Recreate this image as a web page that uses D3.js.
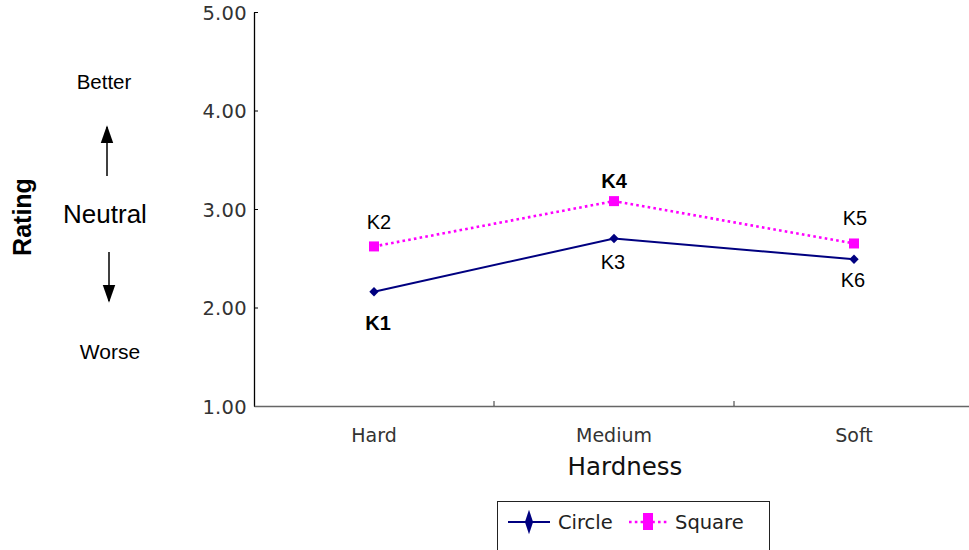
<!DOCTYPE html>
<html>
<head>
<meta charset="utf-8">
<script src="https://cdn.jsdelivr.net/npm/d3@7"></script>
<style>
  html, body { margin: 0; padding: 0; background: #fff; }
  svg { display: block; }
  text { font-family: "Liberation Sans", Arial, sans-serif; }
</style>
</head>
<body>
<svg id="chart" width="969" height="550"></svg>
<script>
// Hardness categories along the x axis
const categories = ["Hard", "Medium", "Soft"];
// Mean rating per hardness
const circleValues = [2.16, 2.70, 2.49];
const squareValues = [2.62, 3.08, 2.65];
// Point labels per series
const circleLabels = ["K1", "K3", "K6"];
const squareLabels = ["K2", "K4", "K5"];
const yTicks = [1, 2, 3, 4, 5];

(function () {
const svg = d3.select("#chart");
const plotLeft = 254, plotRight = 974, plotTop = 12, plotBottom = 406;

const x = d3.scaleBand().domain(categories).range([plotLeft, plotRight]);
const y = d3.scaleLinear().domain([1, 5]).range([plotBottom, plotTop]);
const cx = d => x(d) + x.bandwidth() / 2;

// Y axis (ticks pointing inward)
const yAxis = svg.append("g").attr("transform", `translate(${plotLeft},0)`)
  .call(d3.axisRight(y).tickValues(yTicks).tickFormat(d3.format(".2f")).tickSizeOuter(0).tickSizeInner(4));
yAxis.select(".domain").attr("stroke", "#000").attr("stroke-width", 1.3);
yAxis.selectAll(".tick line").attr("stroke", "#000");
yAxis.selectAll(".tick text")
  .attr("x", -7).attr("text-anchor", "end").attr("dy", "0.36em")
  .attr("font-size", 19.5).attr("fill", "#333")
  .style("font-family", "'DejaVu Sans', sans-serif")
  .attr("letter-spacing", "0.3");

// X axis (category separators pointing inward)
const xAxis = svg.append("g").attr("transform", `translate(0,${plotBottom})`)
  .call(d3.axisBottom(x).tickSize(0).tickSizeOuter(0));
xAxis.select(".domain").attr("stroke", "#666").attr("stroke-width", 1.6);
xAxis.selectAll(".tick text").attr("dy", 0).attr("y", 36)
  .attr("font-size", 19).attr("fill", "#333")
  .style("font-family", "'DejaVu Sans', sans-serif");
svg.append("g").selectAll("line").data(categories.slice(1)).join("line")
  .attr("x1", d => x(d)).attr("x2", d => x(d))
  .attr("y1", plotBottom).attr("y2", plotBottom - 5)
  .attr("stroke", "#333").attr("stroke-width", 1);

// Axis titles
svg.append("text").attr("x", 625).attr("y", 475).attr("text-anchor", "middle")
  .attr("font-size", 24.5).attr("fill", "#111")
  .style("font-family", "'DejaVu Sans', sans-serif").text("Hardness");
svg.append("text").attr("transform", "translate(31,217) rotate(-90)")
  .attr("text-anchor", "middle").attr("font-size", 25).attr("font-weight", "bold")
  .text("Rating");

// Rating direction guide
svg.append("text").attr("x", 104).attr("y", 89).attr("text-anchor", "middle")
  .attr("font-size", 20.5).text("Better");
svg.append("text").attr("x", 105).attr("y", 223).attr("text-anchor", "middle")
  .attr("font-size", 26).text("Neutral");
svg.append("text").attr("x", 110).attr("y", 359).attr("text-anchor", "middle")
  .attr("font-size", 21).text("Worse");
const defs = svg.append("defs");
defs.append("marker").attr("id", "ah").attr("viewBox", "0 0 10 10")
  .attr("refX", 9).attr("refY", 5).attr("markerWidth", 18).attr("markerHeight", 18)
  .attr("markerUnits", "userSpaceOnUse").attr("orient", "auto")
  .append("path").attr("d", "M0,1.5 L10,5 L0,8.5 Z").attr("fill", "#000");
svg.append("line").attr("x1", 107).attr("y1", 176).attr("x2", 107).attr("y2", 127)
  .attr("stroke", "#000").attr("stroke-width", 1.5).attr("marker-end", "url(#ah)");
svg.append("line").attr("x1", 109).attr("y1", 252).attr("x2", 109).attr("y2", 301)
  .attr("stroke", "#000").attr("stroke-width", 1.5).attr("marker-end", "url(#ah)");

// Series
const line = d3.line().x((d, i) => cx(categories[i])).y(d => y(d));
const navy = "#000080", magenta = "#ff00ff";

svg.append("path").datum(circleValues).attr("d", line)
  .attr("fill", "none").attr("stroke", navy).attr("stroke-width", 2);
svg.append("path").datum(squareValues).attr("d", line)
  .attr("fill", "none").attr("stroke", magenta).attr("stroke-width", 2.6)
  .attr("stroke-dasharray", "2.6,3.2");

// Diamond markers: squares turned 45 degrees
const diamond = d3.symbol().type(d3.symbolSquare).size(44);
svg.append("g").selectAll("path").data(circleValues).join("path")
  .attr("d", diamond)
  .attr("transform", (d, i) => `translate(${cx(categories[i])},${y(d)}) rotate(45)`)
  .attr("fill", navy);
svg.append("g").selectAll("rect").data(squareValues).join("rect")
  .attr("x", (d, i) => cx(categories[i]) - 5).attr("y", d => y(d) - 5)
  .attr("width", 10).attr("height", 10).attr("fill", magenta);

// Point labels (offsets from each marker)
const circleDx = [4, -1, -1], circleDy = [38, 30.5, 28];
const squareDx = [5, 0, 1], squareDy = [-17.5, -13, -18.5];
const boldLabels = ["K1", "K4"];
svg.append("g").selectAll("text").data(circleValues).join("text")
  .attr("x", (d, i) => cx(categories[i]) + circleDx[i])
  .attr("y", (d, i) => y(d) + circleDy[i])
  .attr("text-anchor", "middle").attr("font-size", 20)
  .attr("font-weight", (d, i) => boldLabels.includes(circleLabels[i]) ? "bold" : "normal")
  .text((d, i) => circleLabels[i]);
svg.append("g").selectAll("text").data(squareValues).join("text")
  .attr("x", (d, i) => cx(categories[i]) + squareDx[i])
  .attr("y", (d, i) => y(d) + squareDy[i])
  .attr("text-anchor", "middle").attr("font-size", 20)
  .attr("font-weight", (d, i) => boldLabels.includes(squareLabels[i]) ? "bold" : "normal")
  .text((d, i) => squareLabels[i]);

// Legend
const lg = svg.append("g");
lg.append("rect").attr("x", 497.5).attr("y", 501.5).attr("width", 272).attr("height", 60)
  .attr("fill", "#fff").attr("stroke", "#222").attr("stroke-width", 1);
lg.append("line").attr("x1", 508).attr("x2", 550).attr("y1", 522).attr("y2", 522)
  .attr("stroke", navy).attr("stroke-width", 2);
lg.append("path").attr("d", d3.symbol().type(d3.symbolDiamond).size(90))
  .attr("transform", "translate(529,522) scale(0.8,1.4)").attr("fill", navy);
lg.append("text").attr("x", 558).attr("y", 529).attr("font-size", 19.5).attr("fill", "#222")
  .style("font-family", "'DejaVu Sans', sans-serif").text("Circle");
lg.append("line").attr("x1", 629).attr("x2", 668).attr("y1", 522).attr("y2", 522)
  .attr("stroke", magenta).attr("stroke-width", 2.6).attr("stroke-dasharray", "2.6,3.2");
lg.append("rect").attr("x", 643).attr("y", 513).attr("width", 10).attr("height", 17)
  .attr("fill", magenta);
lg.append("text").attr("x", 675).attr("y", 529).attr("font-size", 19.5).attr("fill", "#222")
  .style("font-family", "'DejaVu Sans', sans-serif").text("Square");
})();
</script>
</body>
</html>
